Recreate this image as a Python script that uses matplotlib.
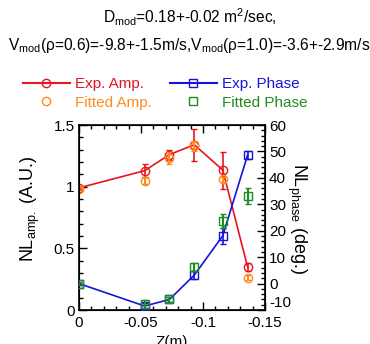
import numpy as np
import matplotlib
matplotlib.use("Agg")
import matplotlib.pyplot as plt
from matplotlib.lines import Line2D
from matplotlib.ticker import MultipleLocator

plt.rcParams['font.family'] = ['Liberation Sans', 'DejaVu Sans']
plt.rcParams['mathtext.fontset'] = 'custom'
plt.rcParams['mathtext.rm'] = 'Liberation Sans'
plt.rcParams['mathtext.it'] = 'Liberation Sans'

# data
z = [0.0, -0.053, -0.073, -0.093, -0.116, -0.136]
amp_exp = [0.99, 1.13, 1.26, 1.34, 1.135, 0.35]
amp_exp_err = [0.01, 0.05, 0.04, 0.13, 0.15, 0.03]
amp_fit = [0.985, 1.05, 1.23, 1.33, 1.06, 0.26]
amp_fit_err = [0.01, 0.03, 0.05, 0.04, 0.02, 0.02]
phase_exp = [0.0, -8.5, -6.0, 3.2, 18.1, 48.6]
phase_exp_err = [0.0, 1.0, 1.0, 1.5, 3.0, 1.5]
phase_fit = [0.0, -7.7, -6.0, 6.4, 23.7, 33.1]
phase_fit_err = [0.5, 1.5, 1.0, 1.5, 2.5, 3.0]

c_red = '#e8141e'
c_orange = '#ff8c1a'
c_blue = '#1414d8'
c_green = '#1e8c1e'

fig = plt.figure(figsize=(3.7, 3.44), dpi=100)
ax = fig.add_axes([0.2135, 0.0988, 0.5025, 0.5378])
ax2 = ax.twinx()

ms = 6
ax.errorbar(z, amp_exp, yerr=amp_exp_err, color=c_red, marker='o', mfc='none',
            ms=ms, lw=1.2, capsize=2.5, zorder=3)
ax.errorbar(z, amp_fit, yerr=amp_fit_err, color=c_orange, marker='o', mfc='none',
            ms=ms, ls='none', capsize=2.5, zorder=4)
ax2.errorbar(z, phase_exp, yerr=phase_exp_err, color=c_blue, marker='s', mfc='none',
             ms=ms, lw=1.2, capsize=2.5, zorder=3)
ax2.errorbar(z, phase_fit, yerr=phase_fit_err, color=c_green, marker='s', mfc='none',
             ms=ms, ls='none', capsize=2.5, zorder=4)

ax.set_xlim(0, -0.15)
ax.set_ylim(0, 1.5)
ax2.set_ylim(-10, 60)

ax.xaxis.set_minor_locator(MultipleLocator(0.01))
ax.yaxis.set_minor_locator(MultipleLocator(0.1))
ax2.yaxis.set_major_locator(MultipleLocator(10))
ax2.yaxis.set_minor_locator(MultipleLocator(2))
ax.set_xticks([0, -0.05, -0.1, -0.15])
ax.set_xticklabels(['0', '-0.05', '-0.1', '-0.15'])
ax.set_yticks([0, 0.5, 1, 1.5])
ax.set_yticklabels(['0', '0.5', '1', '1.5'])
ax2.set_yticks(list(range(-10, 61, 10)))
ax2.set_yticklabels([str(v) for v in range(-10, 61, 10)])
# the lowest phase label sits a bit above its tick in the original
ax2.get_yticklabels()[0].set_va('bottom')

ax.tick_params(which='both', direction='in', top=True, right=False, labelsize=11)
ax.tick_params(axis='x', pad=4)
ax.tick_params(axis='y', pad=3)
ax.tick_params(which='major', length=6, width=1)
ax.tick_params(which='minor', length=3, width=1)
ax2.tick_params(which='both', direction='in', labelsize=11, pad=3)
ax2.tick_params(which='major', length=6, width=1)
ax2.tick_params(which='minor', length=3, width=1)
for sp in ax.spines.values():
    sp.set_linewidth(1.2)

ax.set_xlabel('Z(m)', fontsize=11, labelpad=4)
ax.set_ylabel('NL$_{\\mathregular{amp.}}$ (A.U.)', fontsize=13, ha='center', va='center')
ax.yaxis.set_label_coords(-0.263, 0.546)
ax2.set_ylabel('NL$_{\\mathregular{phase}}$ (deg.)', fontsize=13, rotation=-90,
               ha='center', va='center')
ax2.yaxis.set_label_coords(1.17, 0.497)

fig.text(0.512, 0.932, 'D$_{\\mathregular{mod}}$=0.18+-0.02 m$^{\\mathregular{2}}$/sec,',
         ha='center', fontsize=11.2)
fig.text(0.51, 0.856, 'V$_{\\mathregular{mod}}$(\u03c1=0.6)=-9.8+-1.5m/s,V$_{\\mathregular{mod}}$(\u03c1=1.0)=-3.6+-2.9m/s',
         ha='center', fontsize=11.2)

handles = [
    Line2D([], [], color=c_red, marker='o', mfc='none', ms=ms, lw=1.5),
    Line2D([], [], color=c_orange, marker='o', mfc='none', ms=ms, ls='none'),
    Line2D([], [], color=c_blue, marker='s', mfc='none', ms=ms, lw=1.5),
    Line2D([], [], color=c_green, marker='s', mfc='none', ms=ms, ls='none'),
]
labels = ['Exp. Amp.', 'Fitted Amp.', 'Exp. Phase', 'Fitted Phase']
fig.legend(handles, labels, loc='center left', bbox_to_anchor=(0.025, 0.728), ncol=2,
           frameon=False, fontsize=11, handlelength=3.07, handletextpad=0.33,
           columnspacing=1.2, labelspacing=0.28,
           labelcolor=[c_red, c_orange, c_blue, c_green])

fig.savefig('out.png', dpi=100)
